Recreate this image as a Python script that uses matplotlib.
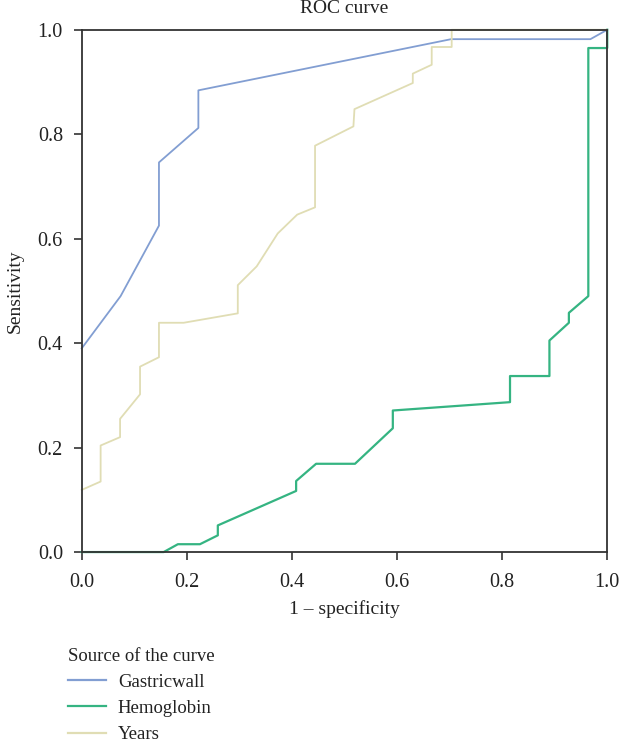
import numpy as np
import matplotlib.pyplot as plt
from matplotlib.lines import Line2D

plt.rcParams['font.family'] = ['Liberation Serif', 'DejaVu Serif']

# ROC curves
gastric_fpr = [0.0, 0.074, 0.147, 0.147, 0.222, 0.222, 0.703, 0.968, 1.0]
gastric_tpr = [0.39, 0.49, 0.625, 0.746, 0.812, 0.884, 0.982, 0.982, 1.0]

hemo_fpr = [0.0, 0.156, 0.183, 0.225, 0.259, 0.259, 0.408, 0.408, 0.446, 0.52,
            0.592, 0.592, 0.815, 0.815, 0.89, 0.89, 0.927, 0.927, 0.964, 0.964,
            1.0, 1.0]
hemo_tpr = [0.0, 0.0, 0.015, 0.015, 0.032, 0.051, 0.117, 0.136, 0.169, 0.169,
            0.237, 0.271, 0.287, 0.337, 0.337, 0.405, 0.439, 0.458, 0.490, 0.965,
            0.965, 1.0]

years_fpr = [0.0, 0.036, 0.036, 0.073, 0.073, 0.111, 0.111, 0.147, 0.147, 0.194,
             0.297, 0.297, 0.333, 0.373, 0.41, 0.444, 0.444, 0.517, 0.519, 0.63,
             0.63, 0.666, 0.666, 0.704, 0.704, 1.0]
years_tpr = [0.119, 0.135, 0.204, 0.220, 0.255, 0.302, 0.355, 0.373, 0.439, 0.439,
             0.457, 0.511, 0.547, 0.610, 0.646, 0.66, 0.778, 0.815, 0.848, 0.898,
             0.916, 0.933, 0.967, 0.967, 1.0, 1.0]

names = ['Gastricwall', 'Hemoglobin', 'Years']
colors = ['#829ed2', '#35b482', '#e0ddb4']

fig = plt.figure(figsize=(6.19, 7.44), dpi=100)
ax = fig.add_axes([0.132, 0.258, 0.849, 0.702])

ax.plot(gastric_fpr, gastric_tpr, color=colors[0], lw=1.3, clip_on=False)
ax.plot(hemo_fpr, hemo_tpr, color=colors[1], lw=1.6, clip_on=False)
ax.plot(years_fpr, years_tpr, color=colors[2], lw=1.3, clip_on=False)

ax.set_xlim(0, 1)
ax.set_ylim(0, 1)
ticks = np.arange(0, 1.01, 0.2)
ax.set_xticks(ticks)
ax.set_yticks(ticks)
ax.set_xticklabels(['%.1f' % t for t in ticks])
ax.set_yticklabels(['%.1f' % t for t in ticks])
ax.tick_params(direction='out', length=6, width=1.2, colors='#333333',
               labelsize=14.5, labelcolor='#222222', pad=7.5)
ax.tick_params(axis='x', pad=9)
for s in ax.spines.values():
    s.set_color('#333333')
    s.set_linewidth(1.3)

# title sits close to the top edge
fig.text(0.5555, 0.988, 'ROC curve', fontsize=14, color='#222222',
         ha='center', va='center')
ax.set_xlabel('1 \u2013 specificity', fontsize=14, color='#222222', labelpad=6)
ax.set_ylabel('Sensitivity', fontsize=14, color='#222222', labelpad=10)

handles = [Line2D([], [], color=c, lw=1.6) for c in colors]
leg = fig.legend(handles, names, title='Source of the curve', loc='upper left',
                 bbox_to_anchor=(0.095, 0.142), frameon=False, fontsize=13.5,
                 title_fontsize=13.5, handlelength=2.0, handletextpad=0.65,
                 labelspacing=0.48, borderpad=0, alignment='left')
for t in leg.get_texts():
    t.set_color('#222222')
leg.get_title().set_color('#222222')

fig.savefig('out.png', dpi=100)
